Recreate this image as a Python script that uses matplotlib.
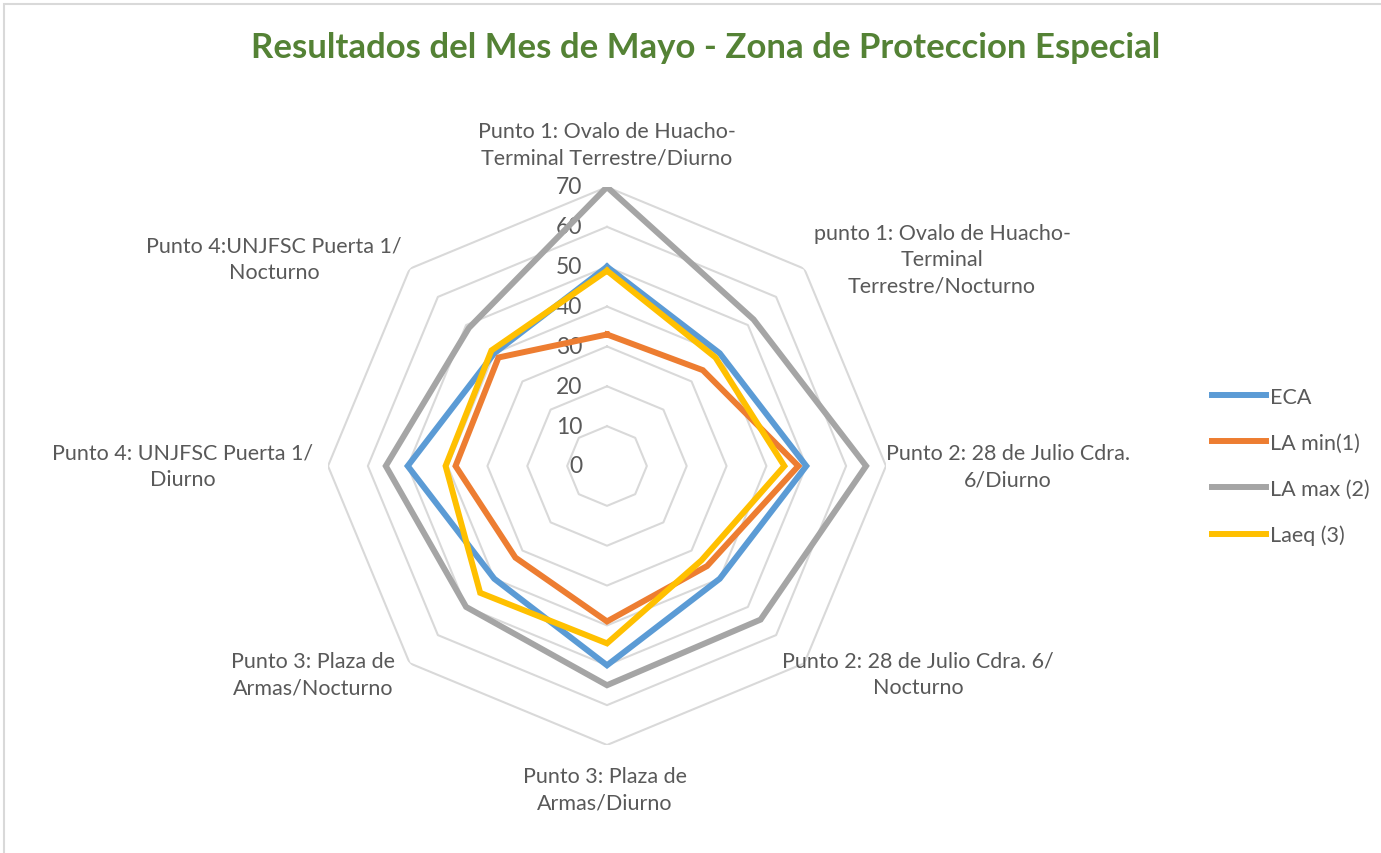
# -*- coding: utf-8 -*-
"""
Radar chart - Resultados del Mes de Mayo, Zona de Proteccion Especial
"""
import numpy as np
import matplotlib
matplotlib.use("Agg")
import matplotlib.pyplot as plt
from matplotlib.patches import Rectangle
from matplotlib.transforms import offset_copy

plt.rcParams['font.family'] = ['Lato', 'DejaVu Sans']

# categories, clockwise starting at the top
categories = ["Punto 1: Ovalo de Huacho-\nTerminal Terrestre/Diurno",
              "punto 1: Ovalo de Huacho-\nTerminal\nTerrestre/Nocturno",
              "Punto 2: 28 de Julio Cdra.\n6/Diurno",
              "Punto 2: 28 de Julio Cdra. 6/\nNocturno",
              "Punto 3: Plaza de\nArmas/Diurno",
              "Punto 3: Plaza de\nArmas/Nocturno",
              "Punto 4: UNJFSC Puerta 1/\nDiurno",
              "Punto 4:UNJFSC Puerta 1/\nNocturno"]

eca = [50, 40, 50, 40, 50, 40, 50, 40]
la_min = [33, 34, 48, 35.5, 39, 32.5, 38, 38.5]
la_max = [70, 52, 65, 54.5, 55, 50, 55.5, 49]
laeq = [49, 38.5, 44.5, 33.5, 44.5, 45, 40.5, 41]

series_names = ["ECA", "LA min(1)", "LA max (2)", "Laeq (3)"]
colors = ["#5B9BD5", "#ED7D31", "#A5A5A5", "#FFC000"]

ticks = [0, 10, 20, 30, 40, 50, 60, 70]

# label centres in pixels (x, y from top)
label_pos = [(607, 145), (942, 260), (1008, 467), (918, 675),
             (605, 790), (313, 675), (183, 467), (274, 260)]

W, H = 1381, 854
fig = plt.figure(figsize=(W / 100, H / 100), dpi=100)

# chart border
fig.patches.append(Rectangle((4 / W, -0.01), 1.1, (H - 5) / H + 0.01,
                             transform=fig.transFigure, fill=False,
                             edgecolor='#D9D9D9', linewidth=1.5))

cx, cy, rad = 607, 467, 279
ax = fig.add_axes([(cx - rad) / W, (H - cy - rad) / H, 2 * rad / W, 2 * rad / H],
                  projection='polar')
ax.set_theta_zero_location('N')
ax.set_theta_direction(-1)
ax.set_ylim(0, 70)
ax.set_axis_off()

n = len(categories)
angles = np.linspace(0, 2 * np.pi, n, endpoint=False)
closed = np.concatenate([angles, angles[:1]])

# octagon grid
for t in ticks[1:]:
    ax.plot(closed, [t] * (n + 1), color='#D9D9D9', linewidth=1.5, zorder=1)

# tick labels along top axis
trans = offset_copy(ax.transData, fig=fig, x=-25, y=0, units='dots')
for t in ticks:
    ax.text(0, t, str(t), transform=trans, ha='right', va='center',
            fontsize=16.5, color='#595959')

for vals, name, c in zip([eca, la_min, la_max, laeq], series_names, colors):
    v = list(vals) + [vals[0]]
    ax.plot(closed, v, color=c, linewidth=4.3, label=name, zorder=3,
            solid_joinstyle='miter')

for lab, (px, py) in zip(categories, label_pos):
    fig.text(px / W, 1 - py / H, lab, ha='center', va='center',
             multialignment='center', fontsize=15.5, color='#595959',
             linespacing=1.4)

fig.text(706 / W, 1 - 48 / H, "Resultados del Mes de Mayo - Zona de Proteccion Especial",
         ha='center', va='center', fontsize=25, fontweight='bold', color='#548235')

handles, labels = ax.get_legend_handles_labels()
fig.legend(handles, labels, loc='center left', bbox_to_anchor=(1193 / W, 1 - 467 / H),
           frameon=False, fontsize=15.5, labelspacing=1.2, handlelength=2.5,
           handletextpad=0.2, labelcolor='#595959')

fig.savefig('out.png', dpi=100)
